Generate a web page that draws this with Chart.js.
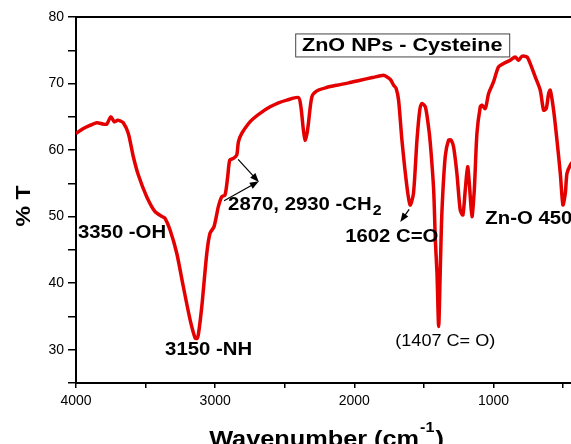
<!DOCTYPE html>
<html>
<head>
<meta charset="utf-8">
<script src="https://cdn.jsdelivr.net/npm/chart.js@4.4.1/dist/chart.umd.min.js"></script>
<style>
  html, body { margin: 0; padding: 0; overflow: hidden; background: #fff; }
  #wrap { position: relative; width: 600px; height: 444px; }
</style>
</head>
<body>
<div id="wrap"><canvas id="ftirChart"></canvas></div>
<script>
// FTIR spectrum, ZnO NPs - Cysteine
const wavenumber = [4000, 3950, 3900, 3851, 3804, 3779, 3750, 3725, 3700, 3684, 3660, 3624, 3588, 3552, 3492,
    3432, 3380, 3360, 3324, 3276, 3229, 3180, 3144, 3130, 3121, 3096, 3060, 3037, 3008, 2977, 2952, 2929,
    2910, 2895, 2869, 2845, 2833, 2809, 2760, 2725, 2665, 2605, 2545, 2485, 2402, 2384, 2366, 2354, 2340,
    2330, 2305, 2269, 2200, 2126, 2040, 1958, 1870, 1790, 1766, 1740, 1718, 1700, 1682, 1658, 1622, 1599,
    1575, 1550, 1530, 1514, 1490, 1470, 1454, 1430, 1418, 1406, 1394, 1383, 1371, 1347, 1323, 1305, 1287,
    1263, 1239, 1220, 1203, 1186, 1172, 1155, 1138, 1119, 1095, 1083, 1059, 1035, 1000, 964, 928, 880, 844,
    820, 796, 760, 736, 700, 664, 640, 621, 604, 592, 568, 544, 520, 501, 484, 472, 448, 420];
const transmittance = [62.5, 63.2, 63.7, 64.1, 63.9, 63.9, 65.0, 64.25, 64.5, 64.4, 64.1, 62.5, 59.0, 56.25, 53.0,
    50.75, 50.0, 49.75, 48.0, 44.5, 39.5, 34.5, 31.75, 31.7, 32.25, 36.5, 44.5, 47.5, 48.5, 51.5, 53.0, 53.25,
    56.0, 58.5, 58.75, 59.25, 61.25, 62.5, 64.0, 64.75, 65.7, 66.5, 67.1, 67.5, 67.9, 66.5, 63.0, 61.5, 62.5,
    64.0, 68.0, 68.9, 69.4, 69.75, 70.1, 70.5, 70.9, 71.25, 71.0, 70.6, 69.75, 69.3, 67.5, 61.5, 54.5, 51.75,
    53.5, 61.5, 66.0, 67.0, 66.5, 64.0, 61.0, 54.0, 46.5, 41.5, 33.5, 41.5, 50.5, 59.0, 61.5, 61.5, 60.5,
    56.5, 51.0, 50.25, 54.0, 57.5, 54.5, 50.0, 54.0, 62.5, 66.5, 66.75, 66.25, 68.5, 70.25, 72.5, 73.0, 73.5, 74.0,
    73.5, 74.1, 74.0, 73.0, 71.0, 69.0, 66.0, 66.25, 68.5, 69.0, 66.0, 61.5, 56.5, 51.75, 53.5, 56.5, 57.75, 58.5];

// axis ticks (labels only on the major ones)
const xTicks = [4000, 3500, 3000, 2500, 2000, 1500, 1000, 500];
const xLabels = ['4000', '', '3000', '', '2000', '', '1000', ''];
const yTicks = [80, 75, 70, 65, 60, 55, 50, 45, 40, 35, 30, 25];
const yLabels = ['80', '', '70', '', '60', '', '50', '', '40', '', '30', ''];

const FONT = '"Liberation Sans", Arial, sans-serif';

// text annotations, anchored in data coordinates (wavenumber, %T)
const notes = [
    { text: '3350 -OH', x: 3986, y: 47.6 },
    { text: '3150 -NH', x: 3360, y: 30.0 },
    { text: '2870, 2930 -CH', sub: '2', x: 2907, y: 51.8 },
    { text: '1602 C=O', x: 2066, y: 47.0 },
    { text: '(1407 C= O)', x: 1706, y: 31.2, weight: '500', size: 16 },
    { text: 'Zn-O 450', x: 1059, y: 49.6 }
];
const arrows = [
    [2835, 58.6, 2686, 55.2],
    [2936, 52.4, 2686, 55.3],
    [1606, 51.1, 1670, 49.2]
];

function drawText(ctx, text, x, y, size, weight, align, sx) {
    ctx.save();
    ctx.font = weight + ' ' + size + 'px ' + FONT;
    ctx.textBaseline = 'middle';
    ctx.textAlign = align;
    ctx.translate(x, y);
    ctx.scale(sx, 1);
    ctx.fillText(text, 0, 0);
    const w = ctx.measureText(text).width * sx;
    ctx.restore();
    return w;
}

function arrow(ctx, x1, y1, x2, y2) {
    const a = Math.atan2(y2 - y1, x2 - x1);
    ctx.beginPath();
    ctx.moveTo(x1, y1);
    ctx.lineTo(x2 - 5 * Math.cos(a), y2 - 5 * Math.sin(a));
    ctx.stroke();
    ctx.beginPath();
    ctx.moveTo(x2, y2);
    ctx.lineTo(x2 - 9 * Math.cos(a) + 3.5 * Math.sin(a), y2 - 9 * Math.sin(a) - 3.5 * Math.cos(a));
    ctx.lineTo(x2 - 9 * Math.cos(a) - 3.5 * Math.sin(a), y2 - 9 * Math.sin(a) + 3.5 * Math.cos(a));
    ctx.closePath();
    ctx.fill();
}

const decorPlugin = {
    id: 'decor',
    afterDraw(chart) {
        const ctx = chart.ctx;
        const xs = chart.scales.x, ys = chart.scales.y;
        const area = chart.chartArea;
        ctx.save();
        ctx.fillStyle = '#000';
        ctx.strokeStyle = '#000';

        // top frame line
        ctx.lineWidth = 2;
        ctx.beginPath();
        ctx.moveTo(area.left, area.top);
        ctx.lineTo(area.right, area.top);
        ctx.stroke();

        // inset title box
        const cx = xs.getPixelForValue(1656), cy = ys.getPixelForValue(75.8);
        ctx.fillStyle = '#fff';
        ctx.fillRect(cx - 107, cy - 11.5, 214, 23);
        ctx.strokeStyle = '#444';
        ctx.lineWidth = 1;
        ctx.strokeRect(cx - 107 + 0.5, cy - 11.5 + 0.5, 214, 23);
        ctx.fillStyle = '#000';
        drawText(ctx, 'ZnO NPs - Cysteine', cx, cy + 1, 18, 'bold', 'center', 1.2);

        // peak labels
        notes.forEach(n => {
            const px = xs.getPixelForValue(n.x), py = ys.getPixelForValue(n.y);
            const w = drawText(ctx, n.text, px, py, n.size || 18, n.weight || 'bold', 'left', 1.13);
            if (n.sub) drawText(ctx, n.sub, px + w + 1, py + 6, 14, 'bold', 'left', 1.13);
        });

        // arrows
        ctx.strokeStyle = '#000';
        ctx.lineWidth = 1.2;
        arrows.forEach(a => {
            arrow(ctx, xs.getPixelForValue(a[0]), ys.getPixelForValue(a[1]),
                xs.getPixelForValue(a[2]), ys.getPixelForValue(a[3]));
        });

        // axis titles
        const mid = (area.left + area.right) / 2;
        ctx.save();
        ctx.font = 'bold 22px ' + FONT;
        const w1 = ctx.measureText('Wavenumber (cm').width * 1.15;
        ctx.font = 'bold 14px ' + FONT;
        const w2 = ctx.measureText('-1').width * 1.15;
        ctx.font = 'bold 22px ' + FONT;
        const w3 = ctx.measureText(')').width * 1.15;
        ctx.restore();
        let tx = mid - (w1 + w2 + w3 + 2) / 2;
        drawText(ctx, 'Wavenumber (cm', tx, 440, 22, 'bold', 'left', 1.15);
        drawText(ctx, '-1', tx + w1 + 1, 428, 14, 'bold', 'left', 1.15);
        drawText(ctx, ')', tx + w1 + w2 + 2, 440, 22, 'bold', 'left', 1.15);

        ctx.save();
        ctx.translate(24, 206);
        ctx.rotate(-Math.PI / 2);
        drawText(ctx, '% T', 0, 0, 21, 'bold', 'center', 1.1);
        ctx.restore();

        ctx.restore();
    }
};

new Chart(document.getElementById('ftirChart'), {
    type: 'line',
    data: {
        datasets: [{
            label: 'ZnO NPs - Cysteine',
            data: wavenumber.map((w, i) => ({ x: w, y: transmittance[i] })),
            borderColor: '#e40000',
            borderWidth: 3.5,
            pointRadius: 0,
            tension: 0.25,
            fill: false
        }]
    },
    options: {
        responsive: true,
        maintainAspectRatio: false,
        animation: false,
        layout: { padding: { top: 17, right: 23, left: 0, bottom: 0 } },
        plugins: { legend: { display: false }, tooltip: { enabled: false } },
        scales: {
            x: {
                type: 'linear',
                reverse: true,
                min: 400,
                max: 4000,
                afterFit: s => { s.height = 61; },
                afterBuildTicks: s => { s.ticks = xTicks.map(v => ({ value: v })); },
                border: { color: '#000', width: 2 },
                grid: { drawOnChartArea: false, tickLength: 5, color: '#000', lineWidth: 1.5 },
                ticks: {
                    autoSkip: false,
                    maxRotation: 0,
                    padding: 5,
                    color: '#000',
                    font: { family: FONT, size: 14 },
                    callback: (v, i) => xLabels[i]
                }
            },
            y: {
                min: 25,
                max: 80,
                afterFit: s => { s.width = 76; },
                afterBuildTicks: s => { s.ticks = yTicks.map(v => ({ value: v })); },
                border: { color: '#000', width: 2 },
                grid: { drawOnChartArea: false, tickLength: 8, color: '#000', lineWidth: 1.5 },
                ticks: {
                    autoSkip: false,
                    padding: 4,
                    color: '#000',
                    font: { family: FONT, size: 14 },
                    callback: (v, i) => yLabels[i]
                }
            }
        }
    },
    plugins: [decorPlugin]
});
</script>
</body>
</html>
